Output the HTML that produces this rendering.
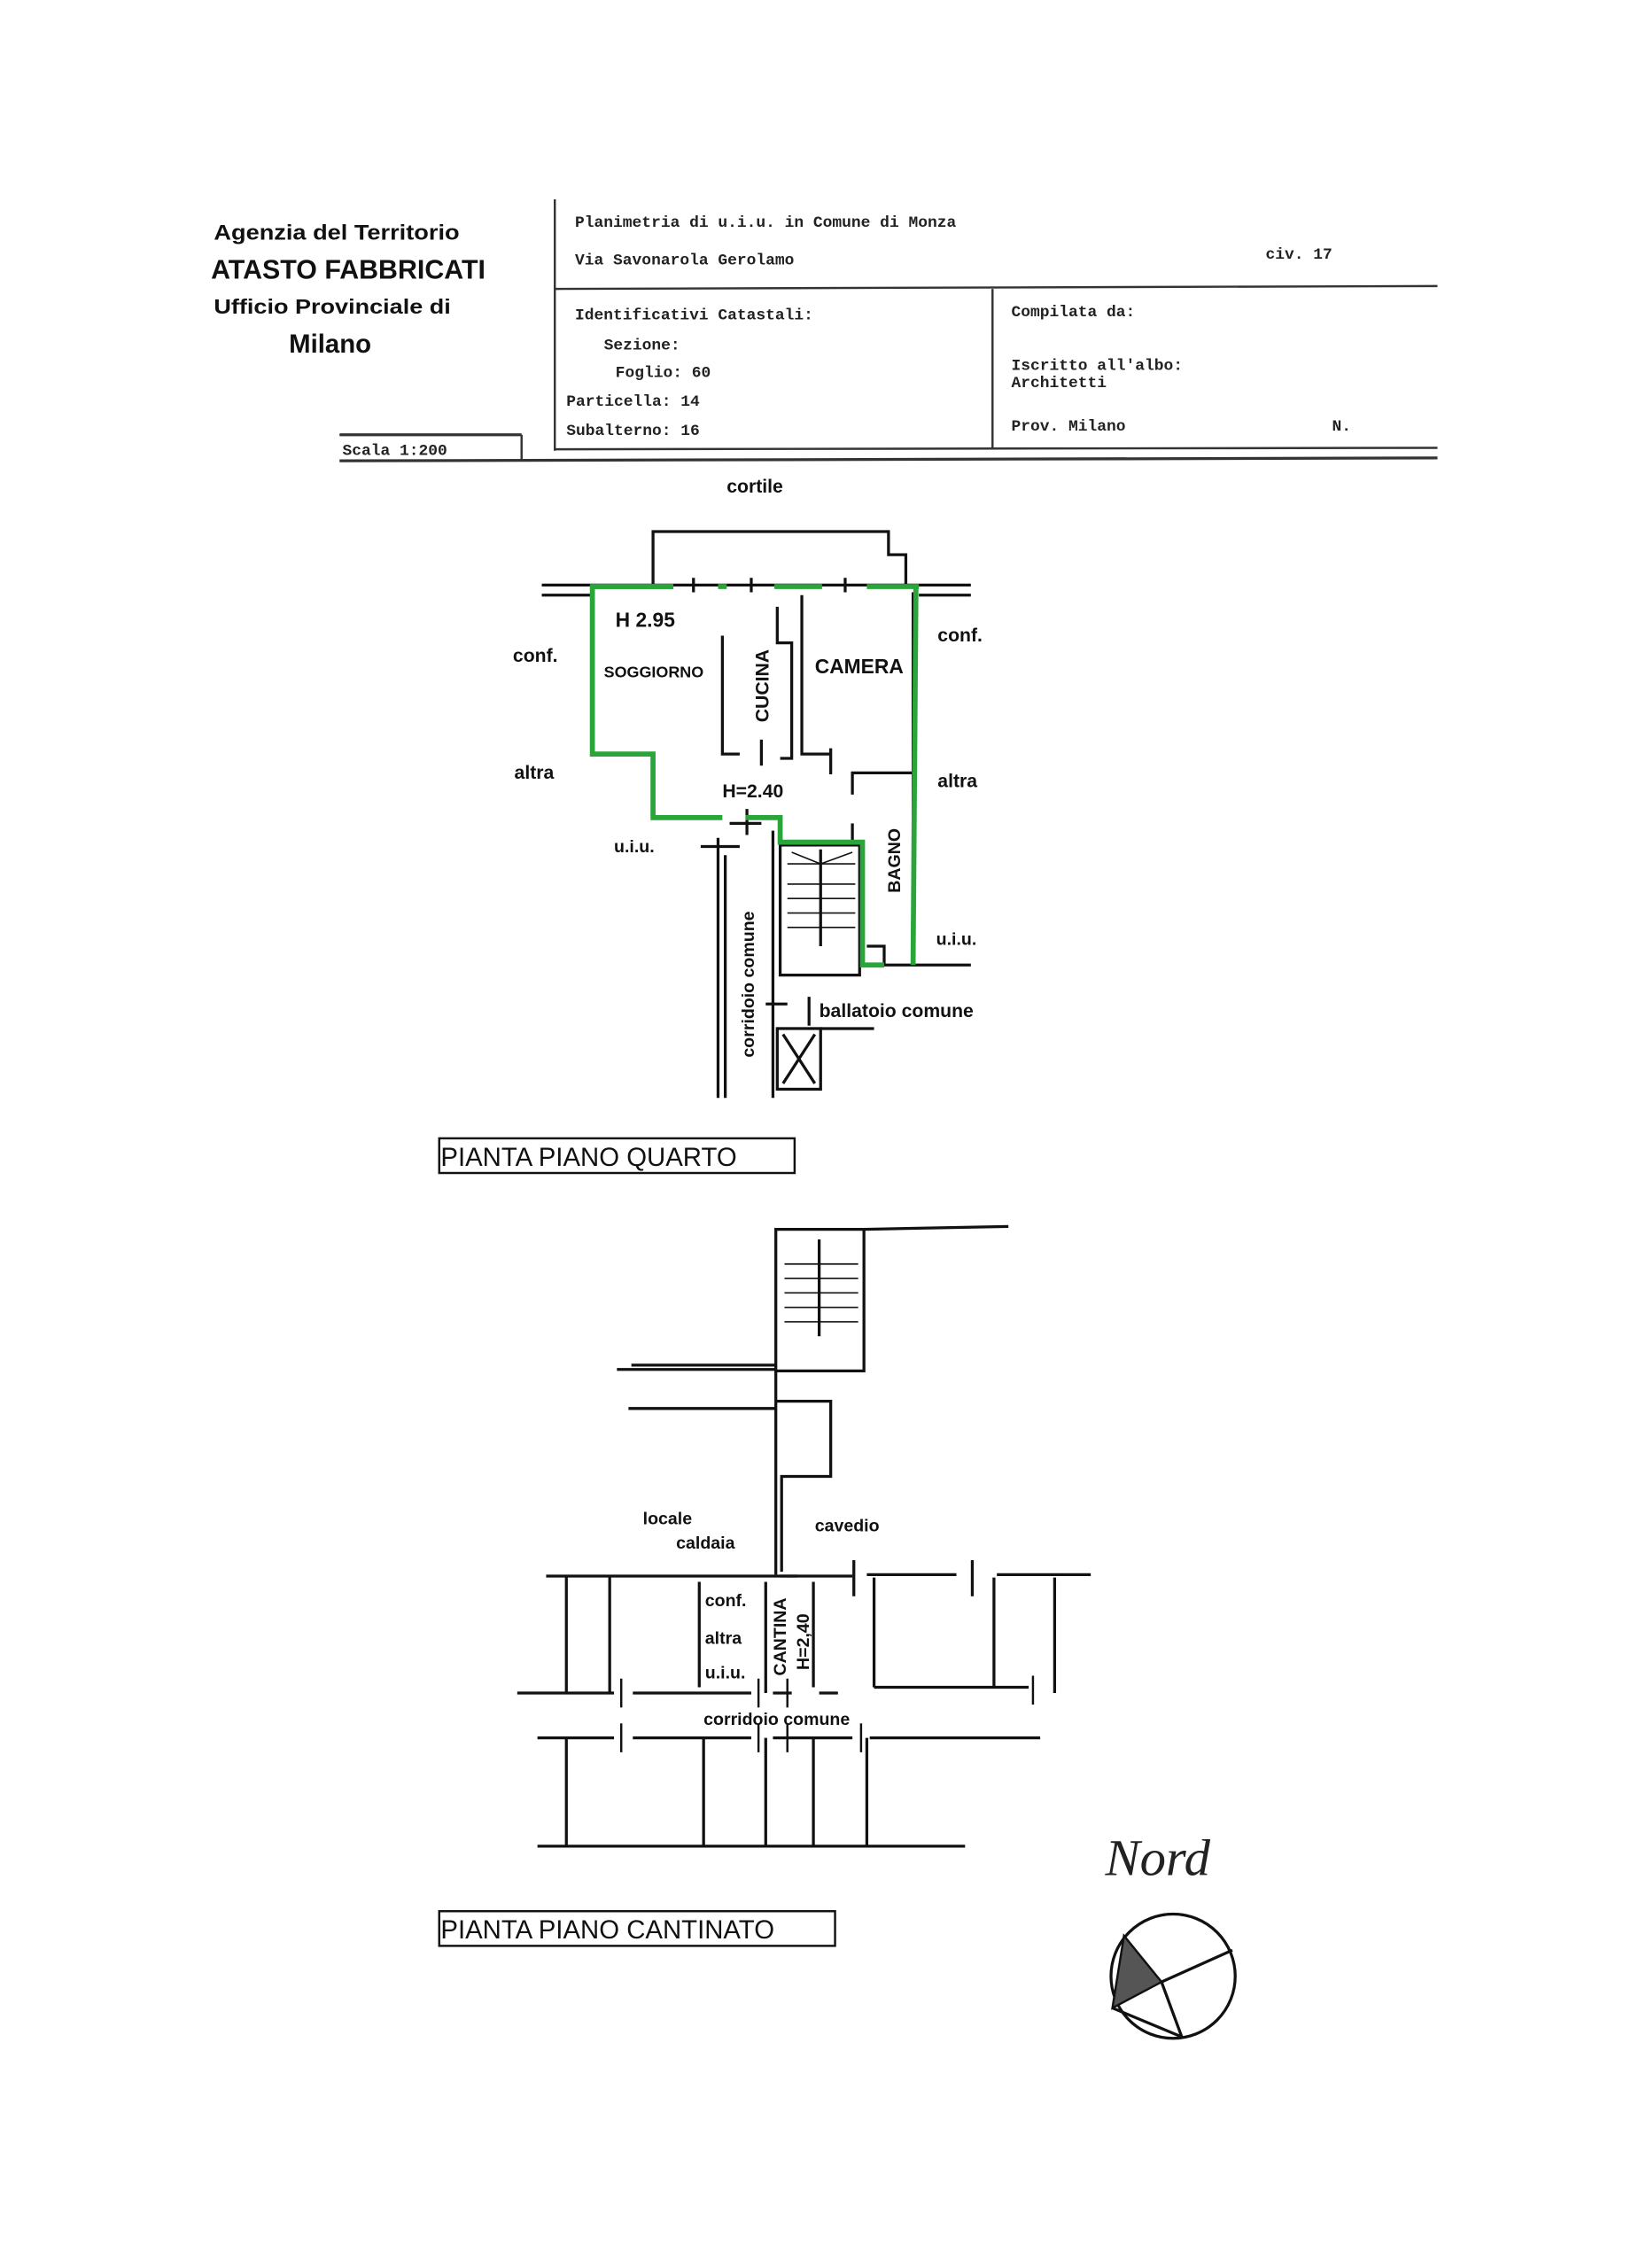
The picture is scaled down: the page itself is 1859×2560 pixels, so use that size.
<!DOCTYPE html>
<html><head><meta charset="utf-8"><style>
html,body{margin:0;padding:0;background:#fff;}
svg{display:block;}
.m{font-family:"Liberation Mono",monospace;font-weight:bold;font-size:11px;fill:#222;}
.s{font-family:"Liberation Sans",sans-serif;font-weight:bold;fill:#111;}
.w{stroke:#111;fill:none;stroke-width:2;}
.g{stroke:#2aa53a;fill:none;stroke-width:3.5;stroke-linejoin:miter;}
</style></head><body>
<svg width="1859" height="2560" viewBox="0 0 1140 1570" xmlns="http://www.w3.org/2000/svg">
<rect width="1140" height="1570" fill="#fff"/>
<text x="148" y="166" class="s" font-size="15" textLength="170" lengthAdjust="spacingAndGlyphs">Agenzia del Territorio</text>
<text x="146" y="193" class="s" font-size="19" textLength="190" lengthAdjust="spacingAndGlyphs">ATASTO FABBRICATI</text>
<text x="148" y="217" class="s" font-size="14" textLength="164" lengthAdjust="spacingAndGlyphs">Ufficio Provinciale di</text>
<text x="200" y="244" class="s" font-size="18" font-weight="normal">Milano</text>
<g stroke="#333" stroke-width="1.5" fill="none">
<line x1="384" y1="138" x2="384" y2="312"/>
<line x1="384" y1="200" x2="995" y2="198"/>
<line x1="687" y1="200" x2="687" y2="310"/>
<line x1="384" y1="311" x2="995" y2="310"/>
<line x1="235" y1="319" x2="995" y2="317" stroke-width="2"/>
<line x1="235" y1="301" x2="361" y2="301" stroke-width="2"/>
<line x1="361" y1="301" x2="361" y2="319"/>
</g>
<text x="237" y="315" class="m">Scala 1:200</text>
<text x="398" y="157" class="m">Planimetria di u.i.u. in Comune di Monza</text>
<text x="398" y="183" class="m">Via Savonarola Gerolamo</text>
<text x="876" y="179" class="m">civ. 17</text>
<text x="398" y="221" class="m">Identificativi Catastali:</text>
<text x="418" y="242" class="m">Sezione:</text>
<text x="426" y="261" class="m">Foglio: 60</text>
<text x="392" y="281" class="m">Particella: 14</text>
<text x="392" y="301" class="m">Subalterno: 16</text>
<text x="700" y="219" class="m">Compilata da:</text>
<text x="700" y="256" class="m">Iscritto all'albo:</text>
<text x="700" y="268" class="m">Architetti</text>
<text x="700" y="298" class="m">Prov. Milano</text>
<text x="922" y="298" class="m" font-size="13">N.</text>

<text x="503" y="341" class="s" font-size="13">cortile</text>
<g class="w">
<polyline points="452,405 452,368 615,368 615,384 627,384 627,405"/>
<line x1="375" y1="405" x2="672" y2="405"/>
<line x1="375" y1="412" x2="410" y2="412"/>
<line x1="636" y1="412" x2="672" y2="412"/>
<line x1="480" y1="400" x2="480" y2="410"/><line x1="520" y1="400" x2="520" y2="410"/><line x1="585" y1="400" x2="585" y2="410"/>
<polyline points="500,440 500,522 512,522"/>
<polyline points="538,420 538,445 548,445 548,525 540,525"/>
<polyline points="555,412 555,522 575,522"/>
<line x1="527" y1="512" x2="527" y2="530"/>
<line x1="575" y1="518" x2="575" y2="536"/>
<polyline points="590,550 590,535 632,535"/>
<line x1="590" y1="570" x2="590" y2="585"/>
<line x1="632" y1="410" x2="632" y2="668"/>
<line x1="612" y1="668" x2="672" y2="668"/>
<polyline points="612,668 612,655 600,655"/>
<rect x="540" y="585" width="55" height="90"/>
<line x1="568" y1="588" x2="568" y2="655"/>
<g stroke-width="1"><line x1="545" y1="612" x2="592" y2="612"/><line x1="545" y1="622" x2="592" y2="622"/><line x1="545" y1="632" x2="592" y2="632"/><line x1="545" y1="642" x2="592" y2="642"/><line x1="545" y1="598" x2="592" y2="598"/><line x1="568" y1="598" x2="548" y2="590"/><line x1="568" y1="598" x2="590" y2="590"/></g>
<line x1="497" y1="580" x2="497" y2="760"/>
<line x1="502" y1="592" x2="502" y2="760"/>
<line x1="535" y1="575" x2="535" y2="760"/>
<line x1="485" y1="586" x2="512" y2="586"/><line x1="517" y1="560" x2="517" y2="578"/><line x1="505" y1="570" x2="527" y2="570"/>
<line x1="530" y1="695" x2="545" y2="695"/>
<line x1="560" y1="690" x2="560" y2="710"/>
<rect x="538" y="712" width="30" height="42"/>
<line x1="542" y1="716" x2="564" y2="750"/><line x1="564" y1="716" x2="542" y2="750"/>
<line x1="568" y1="712" x2="605" y2="712"/>
</g>
<polyline class="g" points="500,566 452,566 452,522 410,522 410,406 466,406"/>
<line class="g" x1="497" y1="406" x2="503" y2="406" stroke-width="5"/>
<line class="g" x1="536" y1="406" x2="569" y2="406" stroke-width="5"/>
<line class="g" x1="600" y1="406" x2="636" y2="406" stroke-width="5"/>
<line class="g" x1="410" y1="406" x2="466" y2="406" stroke-width="5"/>
<polyline class="g" points="516,566 540,566 540,583 597,583 597,668 612,668"/>
<line class="g" x1="634" y1="406" x2="632" y2="668"/>
<text x="426" y="434" class="s" font-size="14">H 2.95</text>
<text x="418" y="469" class="s" font-size="11" font-weight="normal">SOGGIORNO</text>
<text x="564" y="466" class="s" font-size="14" font-weight="normal">CAMERA</text>
<text x="0" y="0" class="s" font-size="13" font-weight="normal" transform="translate(532,500) rotate(-90)">CUCINA</text>
<text x="500" y="552" class="s" font-size="13" font-weight="normal">H=2.40</text>
<text x="0" y="0" class="s" font-size="12" font-weight="normal" transform="translate(623,618) rotate(-90)">BAGNO</text>
<text x="355" y="458" class="s" font-size="13">conf.</text>
<text x="356" y="539" class="s" font-size="13">altra</text>
<text x="649" y="444" class="s" font-size="13">conf.</text>
<text x="649" y="545" class="s" font-size="13">altra</text>
<text x="425" y="590" class="s" font-size="12">u.i.u.</text>
<text x="648" y="654" class="s" font-size="12">u.i.u.</text>
<text x="0" y="0" class="s" font-size="12" transform="translate(522,732) rotate(-90)">corridoio comune</text>
<text x="567" y="704" class="s" font-size="13">ballatoio comune</text>
<rect x="304" y="788" width="246" height="24" fill="none" stroke="#111" stroke-width="1.5"/>
<text x="305" y="807" font-family="Liberation Sans,sans-serif" font-size="18" fill="#111">PIANTA PIANO QUARTO</text>

<g class="w">
<rect x="537" y="851" width="61" height="98"/>
<line x1="598" y1="851" x2="698" y2="849"/>
<line x1="567" y1="858" x2="567" y2="925"/>
<g stroke-width="1"><line x1="543" y1="875" x2="594" y2="875"/><line x1="543" y1="885" x2="594" y2="885"/><line x1="543" y1="895" x2="594" y2="895"/><line x1="543" y1="905" x2="594" y2="905"/><line x1="543" y1="915" x2="594" y2="915"/></g>
<line x1="427" y1="948" x2="537" y2="948"/>
<line x1="437" y1="945" x2="537" y2="945"/>
<line x1="537" y1="949" x2="537" y2="975"/>
<line x1="435" y1="975" x2="537" y2="975"/>
<polyline points="537,970 575,970 575,1022 541,1022 541,1088"/>
<polyline points="537,975 537,1022 537,1090"/>
<line x1="378" y1="1091" x2="552" y2="1091"/>
<line x1="540" y1="1091" x2="590" y2="1091"/>
<line x1="600" y1="1090" x2="662" y2="1090"/>
<line x1="690" y1="1090" x2="755" y2="1090"/>
<line x1="392" y1="1091" x2="392" y2="1172"/>
<line x1="422" y1="1091" x2="422" y2="1172"/>
<line x1="484" y1="1095" x2="484" y2="1168"/>
<line x1="530" y1="1095" x2="530" y2="1172"/>
<line x1="563" y1="1095" x2="563" y2="1168"/>
<line x1="605" y1="1092" x2="605" y2="1168"/>
<line x1="688" y1="1092" x2="688" y2="1168"/>
<line x1="730" y1="1092" x2="730" y2="1172"/>
<line x1="605" y1="1168" x2="712" y2="1168"/>
<line x1="591" y1="1080" x2="591" y2="1105"/><line x1="673" y1="1080" x2="673" y2="1105"/>
<line x1="358" y1="1172" x2="425" y2="1172"/>
<line x1="438" y1="1172" x2="520" y2="1172"/>
<line x1="535" y1="1172" x2="548" y2="1172"/>
<line x1="567" y1="1172" x2="580" y2="1172"/>
<line x1="372" y1="1203" x2="425" y2="1203"/>
<line x1="438" y1="1203" x2="520" y2="1203"/>
<line x1="535" y1="1203" x2="590" y2="1203"/>
<line x1="602" y1="1203" x2="720" y2="1203"/>
<line x1="392" y1="1203" x2="392" y2="1278"/>
<line x1="487" y1="1203" x2="487" y2="1278"/>
<line x1="530" y1="1203" x2="530" y2="1278"/>
<line x1="563" y1="1203" x2="563" y2="1278"/>
<line x1="600" y1="1203" x2="600" y2="1278"/>
<line x1="372" y1="1278" x2="668" y2="1278"/>
<g stroke-width="1.5"><line x1="430" y1="1162" x2="430" y2="1182"/><line x1="430" y1="1193" x2="430" y2="1213"/><line x1="525" y1="1162" x2="525" y2="1182"/><line x1="525" y1="1193" x2="525" y2="1213"/><line x1="545" y1="1162" x2="545" y2="1182"/><line x1="545" y1="1193" x2="545" y2="1213"/><line x1="596" y1="1193" x2="596" y2="1213"/><line x1="715" y1="1160" x2="715" y2="1180"/></g>
</g>
<text x="445" y="1055" class="s" font-size="12">locale</text>
<text x="468" y="1072" class="s" font-size="12">caldaia</text>
<text x="564" y="1060" class="s" font-size="12">cavedio</text>
<text x="488" y="1112" class="s" font-size="12">conf.</text>
<text x="488" y="1138" class="s" font-size="12">altra</text>
<text x="488" y="1162" class="s" font-size="12">u.i.u.</text>
<text x="0" y="0" class="s" font-size="12" transform="translate(544,1160) rotate(-90)">CANTINA</text>
<text x="0" y="0" class="s" font-size="12" transform="translate(560,1156) rotate(-90)">H=2,40</text>
<text x="487" y="1194" class="s" font-size="12">corridoio comune</text>
<rect x="304" y="1323" width="274" height="24" fill="none" stroke="#111" stroke-width="1.5"/>
<text x="305" y="1342" font-family="Liberation Sans,sans-serif" font-size="18" fill="#111">PIANTA PIANO CANTINATO</text>

<text x="765" y="1298" font-family="Liberation Serif,serif" font-style="italic" font-size="36" fill="#222">Nord</text>
<circle cx="812" cy="1368" r="43" fill="none" stroke="#111" stroke-width="2"/>
<polygon points="778,1340 770,1390 804,1372" fill="#555" stroke="#111" stroke-width="1.5"/>
<g stroke="#111" stroke-width="2"><line x1="804" y1="1372" x2="853" y2="1350"/><line x1="804" y1="1372" x2="818" y2="1410"/><line x1="770" y1="1390" x2="818" y2="1410"/></g>
</svg>
</body></html>
